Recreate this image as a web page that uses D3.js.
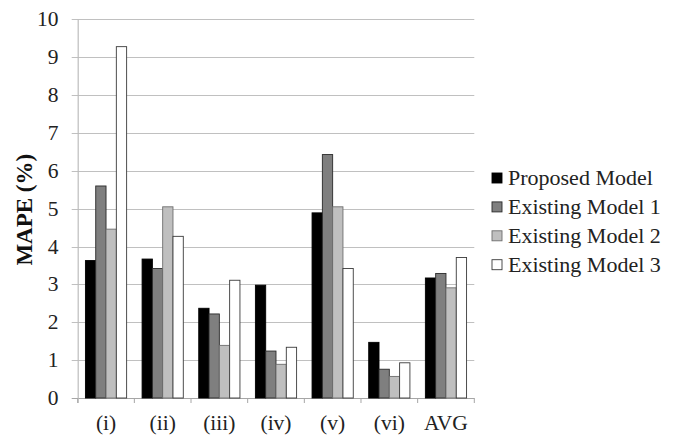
<!DOCTYPE html>
<html><head><meta charset="utf-8">
<script src="https://cdn.jsdelivr.net/npm/d3@7/dist/d3.min.js"></script>
<style>body{margin:0;background:#fff} svg text{font-family:"Liberation Serif","DejaVu Serif",serif;}</style>
</head><body>
<svg id="c" width="675" height="437"></svg>
<script>
const categories = ["(i)", "(ii)", "(iii)", "(iv)", "(v)", "(vi)", "AVG"];
const seriesNames = ["Proposed Model", "Existing Model 1", "Existing Model 2", "Existing Model 3"];
const proposed = [3.63, 3.67, 2.37, 2.98, 4.89, 1.47, 3.17];
const existing1 = [5.60, 3.42, 2.22, 1.24, 6.43, 0.76, 3.29];
const existing2 = [4.46, 5.05, 1.39, 0.89, 5.05, 0.57, 2.91];
const existing3 = [9.28, 4.27, 3.11, 1.34, 3.42, 0.93, 3.71];
const yTicks = [0, 1, 2, 3, 4, 5, 6, 7, 8, 9, 10];
const series = [proposed, existing1, existing2, existing3];
const fills = ["#000000", "#7f7f7f", "#bfbfbf", "#ffffff"];
const strokes = ["#000000", "#2a2a2a", "#6e6e6e", "#3a3a3a"];

(function () {
const svg = d3.select("#c");
const pLeft = 77.7, pRight = 474.3, pTop = 19.4, pBottom = 398;

const x = d3.scaleBand().domain(categories).range([pLeft, pRight]).paddingInner(0).paddingOuter(0);
const y = d3.scaleLinear().domain([0, 10]).range([pBottom, pTop]);
const bw = x.bandwidth() / 5.5;
const xs = d3.scaleBand().domain(d3.range(4)).range([0, 4 * bw]);

// gridlines
svg.append("g").selectAll("line").data(yTicks).join("line")
  .attr("x1", pLeft - 6).attr("x2", pRight)
  .attr("y1", d => Math.round(y(d)) + 0.5).attr("y2", d => Math.round(y(d)) + 0.5)
  .attr("stroke", d => d === 0 ? "#a6a6a6" : "#c0c0c0").attr("stroke-width", 1);

// y axis line
svg.append("line").attr("x1", pLeft + 0.5).attr("x2", pLeft + 0.5).attr("y1", pTop).attr("y2", pBottom + 5)
  .attr("stroke", "#bdbdbd").attr("stroke-width", 1.2);

// x ticks
const bounds = categories.map(c => x(c)).concat([pRight]);
svg.append("g").selectAll("line").data(bounds).join("line")
  .attr("x1", d => d).attr("x2", d => d).attr("y1", pBottom).attr("y2", pBottom + 5)
  .attr("stroke", "#a6a6a6").attr("stroke-width", 1);

// bars
series.forEach((vals, si) => {
  svg.append("g").selectAll("rect").data(vals).join("rect")
    .attr("x", (d, i) => x(categories[i]) + 0.75 * bw + xs(si))
    .attr("width", bw)
    .attr("y", d => y(d))
    .attr("height", d => y(0) - y(d))
    .attr("fill", fills[si])
    .attr("stroke", strokes[si]).attr("stroke-width", 0.9);
});

// y tick labels
svg.append("g").selectAll("text").data(yTicks).join("text")
  .attr("x", 58.5).attr("y", d => y(d) + 7)
  .attr("text-anchor", "end").attr("font-size", 21.5).attr("fill", "#222")
  .text(d => d);

// x labels
svg.append("g").selectAll("text").data(categories).join("text")
  .attr("x", d => x(d) + x.bandwidth() / 2).attr("y", 430)
  .attr("text-anchor", "middle").attr("font-size", 21.5).attr("fill", "#222")
  .text(d => d);

// y title
svg.append("text").attr("transform", `translate(31.5,${(pTop + pBottom) / 2 + 1}) rotate(-90)`)
  .attr("text-anchor", "middle").attr("font-size", 23).attr("font-weight", "bold")
  .attr("fill", "#111").text("MAPE (%)");

// legend
const lg = svg.append("g");
seriesNames.forEach((n, i) => {
  const yy = 185 + i * 28.9;
  lg.append("rect").attr("x", 492).attr("y", yy - 12).attr("width", 10).attr("height", 10)
    .attr("fill", fills[i]).attr("stroke", strokes[i]).attr("stroke-width", 0.9);
  lg.append("text").attr("x", 508).attr("y", yy).attr("font-size", 22)
    .attr("fill", "#222").text(n);
});
})();
</script>
</body></html>
